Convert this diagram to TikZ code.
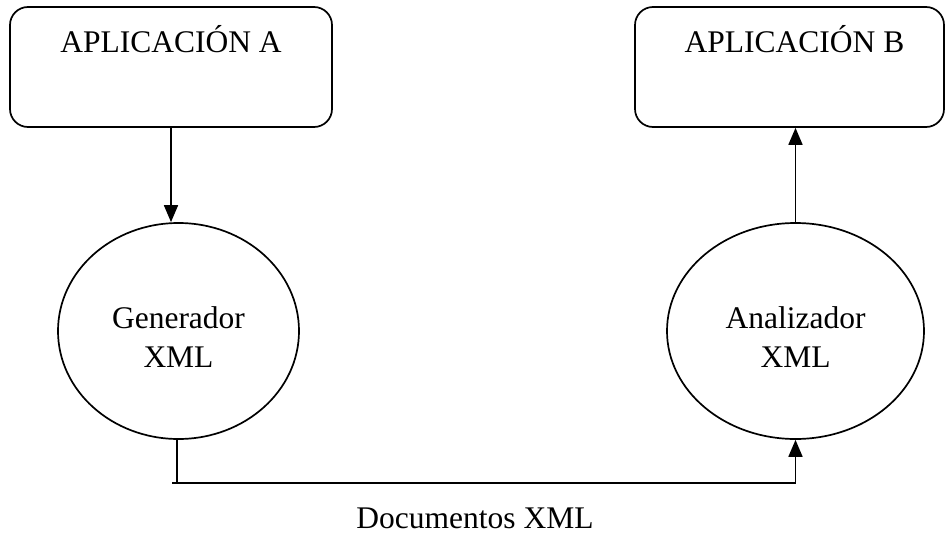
\documentclass[tikz,border=0pt]{standalone}
\usepackage{fontspec}
\setmainfont{Liberation Serif}
\usetikzlibrary{shapes.geometric,arrows.meta}
\tikzset{
  appbox/.style={draw,rounded corners=18pt,minimum width=322pt,minimum height=120pt,inner sep=0pt},
  proc/.style={draw,ellipse,inner sep=0pt,align=center,text height=72pt,text depth=0pt,
    font=\fontsize{31.5}{39}\selectfont},
  big/.style={font=\fontsize{31.5}{39}\selectfont}
}
\begin{document}
\begin{tikzpicture}[x=1pt,y=-1pt,line width=1.7pt,>={Triangle[length=17pt,width=14pt]}]
\useasboundingbox (0,0) rectangle (945,541);
\node[appbox,label={[big,anchor=base,yshift=-46pt]north:APLICACIÓN A}] (appA) at (171,67) {};
\node[appbox,minimum width=309pt,label={[big,anchor=base,yshift=-46pt,xshift=5pt]north:APLICACIÓN B}] (appB) at (789.5,67) {};
\node[proc,minimum width=241pt,minimum height=216pt] (gen) at (178.5,331) {Generador\\XML};
\node[proc,minimum width=257pt,minimum height=216pt] (ana) at (795.5,331) {Analizador\\XML};
\node[big] (docs) at (475,518) {Documentos XML};
\coordinate (bend) at (177,483);
\draw[->] (appA.south) -- (appA.south |- gen.north);
\draw[->] (ana.north) -- (ana.north |- appB.south);
\draw[->] (gen.south -| bend) -- (bend) -| (ana.south);
\draw ([xshift=-5pt]bend) -- (bend);
\end{tikzpicture}
\end{document}
